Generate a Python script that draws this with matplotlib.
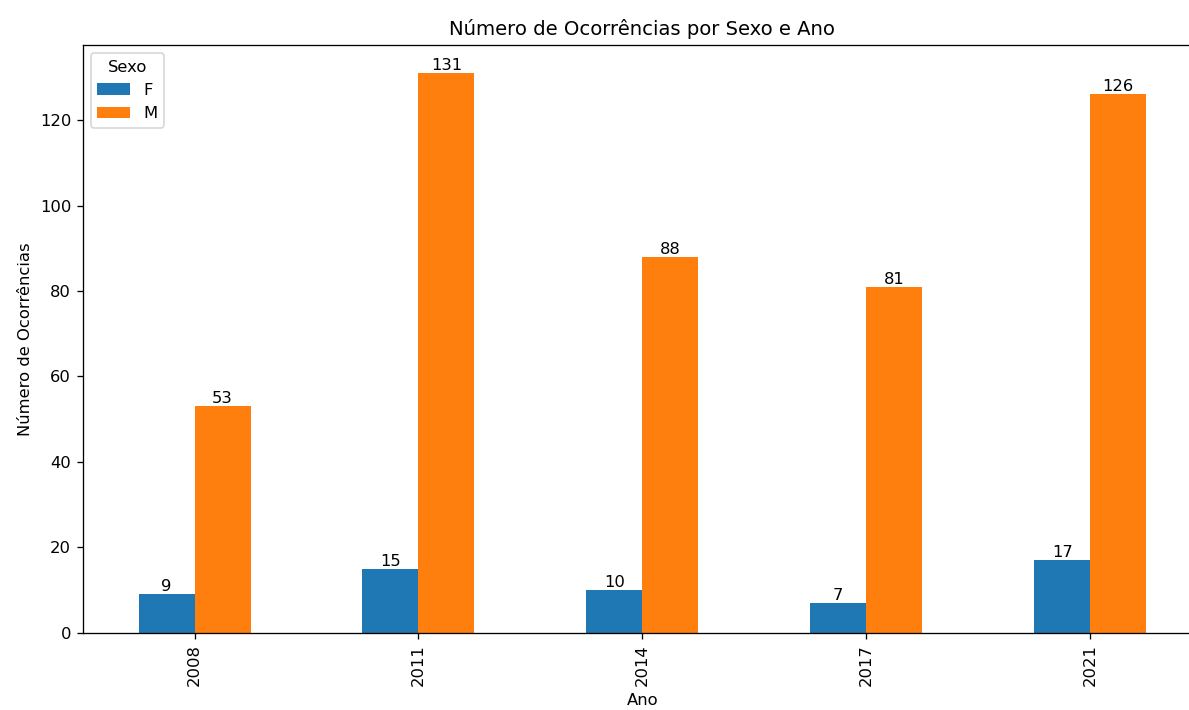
import matplotlib
matplotlib.use("Agg")
import matplotlib.pyplot as plt
import numpy as np
import pandas as pd

anos = ["2008", "2011", "2014", "2017", "2021"]
feminino = [9, 15, 10, 7, 17]
masculino = [53, 131, 88, 81, 126]

df = pd.DataFrame({"F": feminino, "M": masculino}, index=anos)
df.index.name = "Ano"
df.columns.name = "Sexo"

DPI = 118
fig, ax = plt.subplots(figsize=(1189 / DPI, 710 / DPI), dpi=DPI)
df.plot(kind="bar", ax=ax, color=["#1f77b4", "#ff7f0e"])

for container in ax.containers:
    ax.bar_label(container)

ax.set_title("Número de Ocorrências por Sexo e Ano")
ax.set_xlabel("Ano")
ax.set_ylabel("Número de Ocorrências")
ax.legend(title="Sexo", loc="upper left")

# the original picture is cut off on the right, past the right spine
plt.subplots_adjust(left=0.0695, right=1.011, top=0.9366, bottom=0.1085)
fig.savefig("out.png", dpi=DPI)
